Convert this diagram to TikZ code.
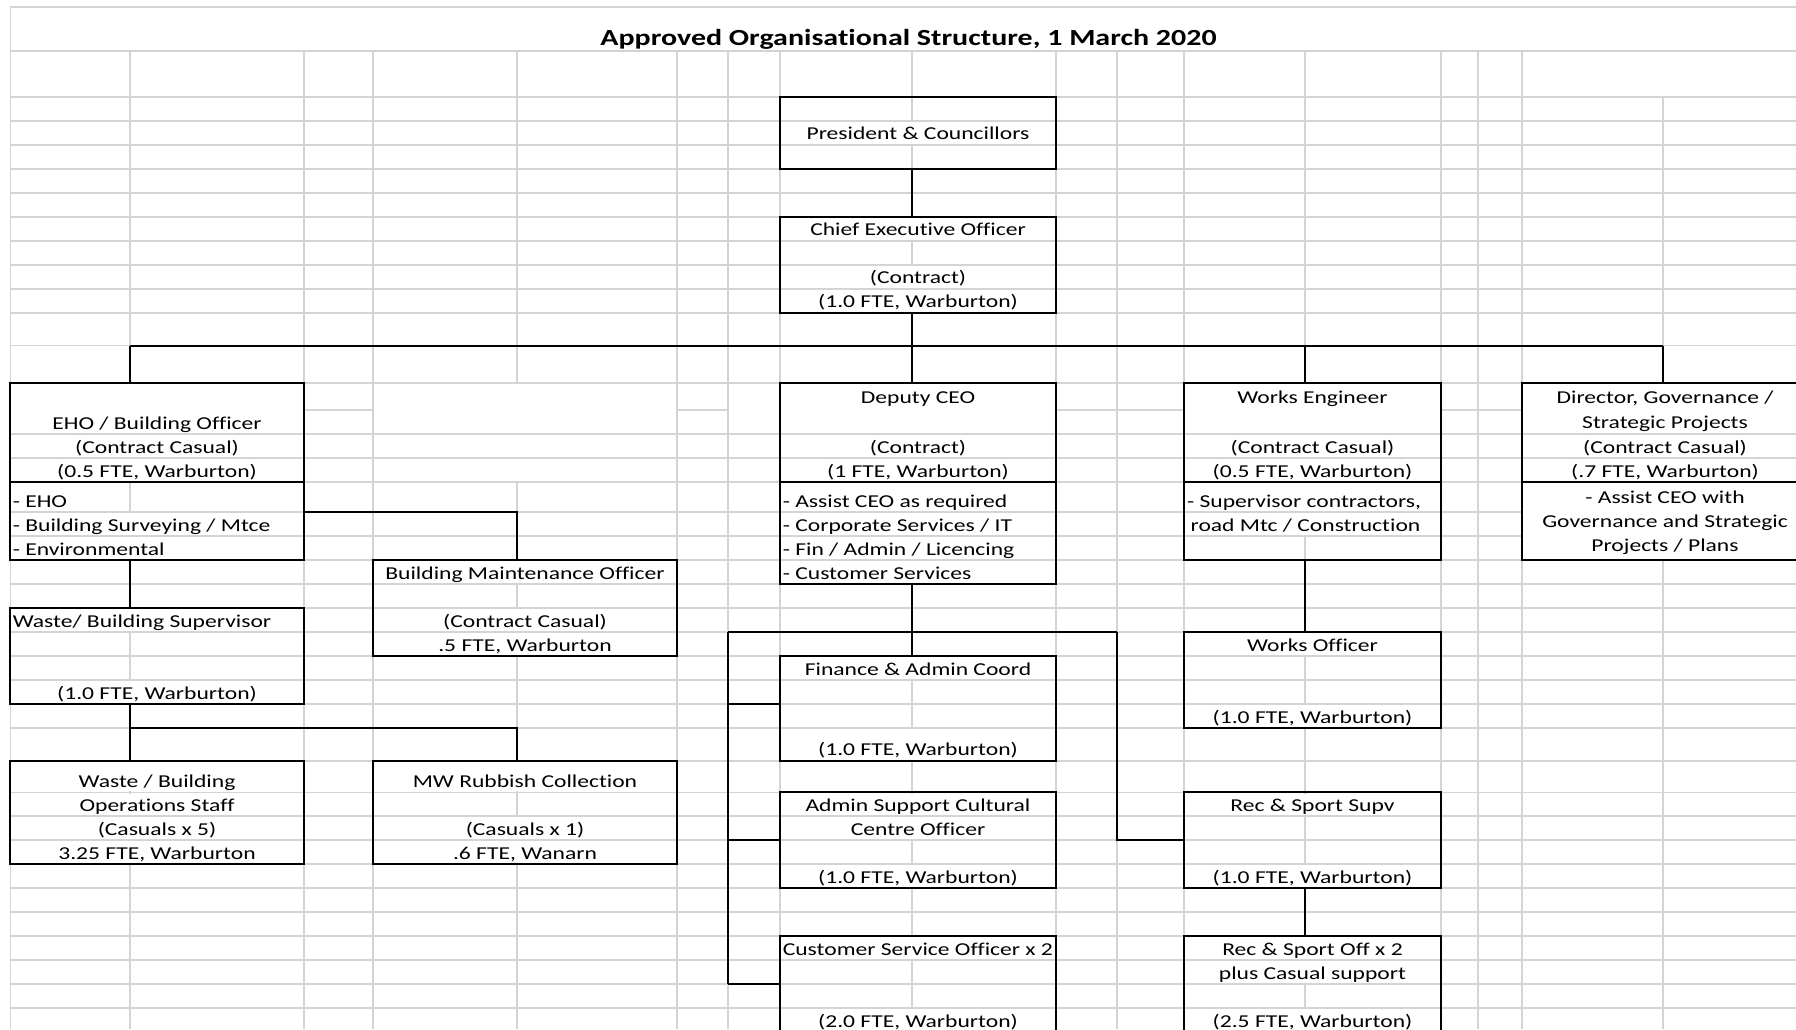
\documentclass[tikz,border=0pt]{standalone}
\usepackage{fontspec}
\setmainfont{Carlito}[FakeStretch=1.30,Ligatures=NoCommon]
\usetikzlibrary{fit}
\definecolor{gridgray}{HTML}{D4D4D4}
\newcommand\lblfont{\fontsize{13.6}{16}\selectfont}
\newcommand\ttlfont{\fontsize{17.3}{20}\selectfont\bfseries}
\newcommand\hiderow[4]{\fill[white] ({#1+1.2},{#2+1.2}) rectangle ({#3-1.2},{#4-1.2});}
\tikzset{
  gridln/.style={draw=gridgray, line width=1.2pt},
  box/.style={draw=black, line width=1.7pt, inner sep=0pt, rectangle},
  conn/.style={draw=black, line width=1.5pt},
  lbl/.style={anchor=base, inner sep=0pt, font=\lblfont},
  lbll/.style={anchor=base west, inner sep=0pt, font=\lblfont},
  ttl/.style={anchor=base, inner sep=0pt, font=\ttlfont},
}
\begin{document}
\begin{tikzpicture}[x=0.75pt,y=-0.75pt]
\useasboundingbox (0,0) rectangle (1796,1029);
\clip (0,0) rectangle (1796,1029);
\fill[white] (0,0) rectangle (1796,1029);
% ---------------- grid ----------------
\foreach \y in {6.7,51,96.7,120.7,144.7,168.7,192.7,216.7,240.7,264.7,288.7,312.7,345.5,382.7,434,458,482,512,536,560,584,608,632,656,680,704,728,760.7,792.3,816,840,864,888,912,936,960,984,1008}
  \draw[gridln] (10.3,\y) -- (1796,\y);
\foreach \a/\b in {304/373,677/728,1056/1184,1441/1522}
  \draw[gridln] (\a,410) -- (\b,410);
\draw[gridln] (10.3,6.7) -- (10.3,1029);
\foreach \x in {130,304,373,677,728,780,912,1056,1117,1184,1305,1441,1478,1522}
  \draw[gridln] (\x,51) -- (\x,1029);
\draw[gridln] (517,51) -- (517,382.7);
\draw[gridln] (517,482) -- (517,1029);
\draw[gridln] (1663,96.7) -- (1663,1029);
% ---------------- hidden grid under text ----------------
\hiderow{10.3}{6.7}{1796}{51}
\hiderow{780}{120.7}{1056}{144.7}
\hiderow{780}{216.7}{1056}{240.7}
\hiderow{780}{264.7}{1056}{288.7}
\hiderow{780}{288.7}{1056}{312.7}
\foreach \a/\b in {10.3/304,780/1056,1184/1441,1522/1800}{
  \hiderow{\a}{382.7}{\b}{434}
  \hiderow{\a}{434}{\b}{458}
  \hiderow{\a}{458}{\b}{482}
}
\hiderow{10.3}{512}{304}{536}
\hiderow{10.3}{536}{304}{560}
\foreach \y/\z in {482/512,512/536,536/560,560/584}{\hiderow{780}{\y}{1056}{\z}}
\hiderow{1184}{482}{1441}{512}
\hiderow{1184}{512}{1441}{536}
\hiderow{1522}{482}{1800}{560}
\foreach \y/\z in {560/584,608/632,632/656}{\hiderow{373}{\y}{677}{\z}}
\hiderow{10.3}{608}{304}{632}
\hiderow{10.3}{680}{304}{704}
\foreach \y/\z in {760.7/792.3,792.3/816,816/840,840/864}{\hiderow{10.3}{\y}{304}{\z}}
\foreach \y/\z in {760.7/792.3,816/840,840/864}{\hiderow{373}{\y}{677}{\z}}
\hiderow{780}{656}{1056}{680}
\hiderow{780}{728}{1056}{760.7}
\hiderow{1184}{632}{1441}{656}
\hiderow{1184}{704}{1441}{728}
\foreach \y/\z in {792.3/816,816/840,864/888}{\hiderow{780}{\y}{1056}{\z}}
\hiderow{1184}{792.3}{1441}{816}
\hiderow{1184}{864}{1441}{888}
\hiderow{780}{936}{1056}{960}
\hiderow{780}{1008}{1056}{1032}
\foreach \y/\z in {936/960,960/984,1008/1032}{\hiderow{1184}{\y}{1441}{\z}}
% ---------------- boxes ----------------
\node[box, fit={(780,96.7) (1056,168.7)}] (pres) {};
\node[box, fit={(780,216.7) (1056,312.7)}] (ceo) {};
\node[box, fit={(10.3,382.7) (304,482)}] (ehoH) {};
\node[box, fit={(10.3,482) (304,560)}] (ehoL) {};
\node[box, fit={(780,382.7) (1056,482)}] (depH) {};
\node[box, fit={(780,482) (1056,584)}] (depL) {};
\node[box, fit={(1184,382.7) (1441,482)}] (weH) {};
\node[box, fit={(1184,482) (1441,560)}] (weL) {};
\node[box, fit={(1522,382.7) (1808,482)}] (dirH) {};
\node[box, fit={(1522,482) (1808,560)}] (dirL) {};
\node[box, fit={(373,560) (677,656)}] (bmo) {};
\node[box, fit={(10.3,608) (304,704)}] (wbs) {};
\node[box, fit={(10.3,760.7) (304,864)}] (wst) {};
\node[box, fit={(373,760.7) (677,864)}] (mw) {};
\node[box, fit={(780,656) (1056,760.7)}] (fin) {};
\node[box, fit={(1184,632) (1441,728)}] (wo) {};
\node[box, fit={(780,792.3) (1056,888)}] (adm) {};
\node[box, fit={(1184,792.3) (1441,888)}] (rss) {};
\node[box, fit={(780,936) (1056,1045)}] (cso) {};
\node[box, fit={(1184,936) (1441,1045)}] (rso) {};
% ---------------- texts ----------------
\node[ttl] (title) at (908.5,45) {Approved Organisational Structure, 1 March 2020};
\node[lbl] (t01) at (918,139.7) {President \& Councillors};
\node[lbl] (t02) at (918,235.7) {Chief Executive Officer};
\node[lbl] (t03) at (918,283.7) {(Contract)};
\node[lbl] (t04) at (918,307.7) {(1.0 FTE, Warburton)};
\node[lbl] (t05) at (157,429) {EHO / Building Officer};
\node[lbl] (t06) at (157,453) {(Contract Casual)};
\node[lbl] (t07) at (157,477) {(0.5 FTE, Warburton)};
\node[lbll] (t08) at (12.5,507) {- EHO};
\node[lbll] (t09) at (12.5,531) {- Building Surveying / Mtce};
\node[lbll] (t10) at (12.5,555) {- Environmental};
\node[lbl] (t11) at (918,403) {Deputy CEO};
\node[lbl] (t12) at (918,453) {(Contract)};
\node[lbl] (t13) at (918,477) {(1 FTE, Warburton)};
\node[lbll] (t14) at (782.5,507) {- Assist CEO as required};
\node[lbll] (t15) at (782.5,531) {- Corporate Services / IT};
\node[lbll] (t16) at (782.5,555) {- Fin / Admin / Licencing};
\node[lbll] (t17) at (782.5,579) {- Customer Services};
\node[lbl] (t18) at (1312.5,403) {Works Engineer};
\node[lbl] (t19) at (1312.5,453) {(Contract Casual)};
\node[lbl] (t20) at (1312.5,477) {(0.5 FTE, Warburton)};
\node[lbl] (t21) at (1304,507) {- Supervisor contractors,};
\node[lbl] (t22) at (1305.5,531) {road Mtc / Construction};
\node[lbl] (t23) at (1665,403) {Director, Governance /};
\node[lbl] (t24) at (1665,428) {Strategic Projects};
\node[lbl] (t25) at (1665,453) {(Contract Casual)};
\node[lbl] (t26) at (1665,477) {(.7 FTE, Warburton)};
\node[lbl] (t27) at (1665,503) {- Assist CEO with};
\node[lbl] (t28) at (1665,527) {Governance and Strategic};
\node[lbl] (t29) at (1665,551) {Projects / Plans};
\node[lbl] (t30) at (525,579) {Building Maintenance Officer};
\node[lbl] (t31) at (525,627) {(Contract Casual)};
\node[lbl] (t32) at (525,651) {.5 FTE, Warburton};
\node[lbll] (t33) at (12.5,627) {Waste/ Building Supervisor};
\node[lbl] (t34) at (157,699) {(1.0 FTE, Warburton)};
\node[lbl] (t35) at (157,787.3) {Waste / Building};
\node[lbl] (t36) at (157,811) {Operations Staff};
\node[lbl] (t37) at (157,835) {(Casuals x 5)};
\node[lbl] (t38) at (157,859) {3.25 FTE, Warburton};
\node[lbl] (t39) at (525,787.3) {MW Rubbish Collection};
\node[lbl] (t40) at (525,835) {(Casuals x 1)};
\node[lbl] (t41) at (525,859) {.6 FTE, Wanarn};
\node[lbl] (t42) at (918,675) {Finance \& Admin Coord};
\node[lbl] (t43) at (918,755.7) {(1.0 FTE, Warburton)};
\node[lbl] (t44) at (1312.5,651) {Works Officer};
\node[lbl] (t45) at (1312.5,723) {(1.0 FTE, Warburton)};
\node[lbl] (t46) at (918,811) {Admin Support Cultural};
\node[lbl] (t47) at (918,835) {Centre Officer};
\node[lbl] (t48) at (918,883) {(1.0 FTE, Warburton)};
\node[lbl] (t49) at (1312.5,811) {Rec \& Sport Supv};
\node[lbl] (t50) at (1312.5,883) {(1.0 FTE, Warburton)};
\node[lbll] (t51) at (782.5,955) {Customer Service Officer x 2};
\node[lbl] (t52) at (918,1027) {(2.0 FTE, Warburton)};
\node[lbl] (t53) at (1312.5,955) {Rec \& Sport Off x 2};
\node[lbl] (t54) at (1312.5,979) {plus Casual support};
\node[lbl] (t55) at (1312.5,1027) {(2.5 FTE, Warburton)};
% ---------------- connectors ----------------
\coordinate (cA) at (130,0);
\coordinate (cB) at (517,0);
\coordinate (cC) at (728,0);
\coordinate (cD) at (912,0);
\coordinate (cE) at (1117,0);
\coordinate (cF) at (1305,0);
\coordinate (cG) at (1663,0);
\coordinate (yBus) at (0,345.5);
\coordinate (yEhoB) at (0,512);
\coordinate (yWst) at (0,728);
\coordinate (yDep) at (0,632);
\coordinate (yFin) at (0,704);
\coordinate (yAdm) at (0,840);
\coordinate (yCso) at (0,984);
\draw[conn] (cD |- pres.south) -- (cD |- ceo.north);
\draw[conn] (cD |- ceo.south) -- (cD |- depH.north);
\draw[conn] (cA |- yBus) -- (cG |- yBus);
\draw[conn] (cA |- yBus) -- (cA |- ehoH.north);
\draw[conn] (cF |- yBus) -- (cF |- weH.north);
\draw[conn] (cG |- yBus) -- (cG |- dirH.north);
\draw[conn] (ehoL.east |- yEhoB) -| (cB |- bmo.north);
\draw[conn] (cA |- ehoL.south) -- (cA |- wbs.north);
\draw[conn] (cA |- wbs.south) -- (cA |- wst.north);
\draw[conn] (cA |- yWst) -| (cB |- mw.north);
\draw[conn] (cD |- depL.south) -- (cD |- fin.north);
\draw[conn] (cC |- yDep) -- (cE |- yDep);
\draw[conn] (cC |- yDep) -- (cC |- yCso);
\draw[conn] (cC |- yFin) -- (fin.west |- yFin);
\draw[conn] (cC |- yAdm) -- (adm.west |- yAdm);
\draw[conn] (cC |- yCso) -- (cso.west |- yCso);
\draw[conn] (cE |- yDep) |- (rss.west |- yAdm);
\draw[conn] (cF |- weL.south) -- (cF |- wo.north);
\draw[conn] (cF |- rss.south) -- (cF |- rso.north);
\end{tikzpicture}
\end{document}
